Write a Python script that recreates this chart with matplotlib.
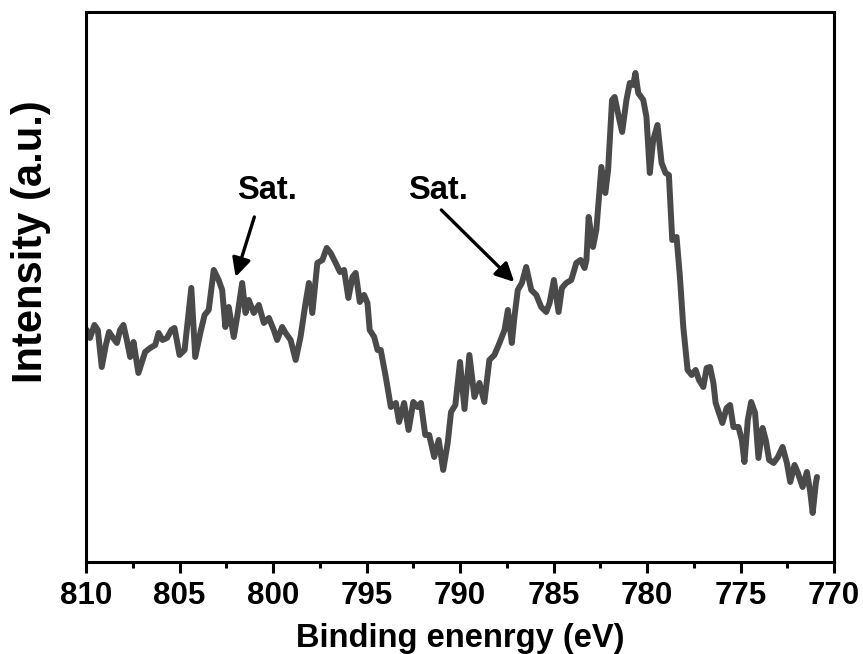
import matplotlib
matplotlib.use('Agg')
import matplotlib.pyplot as plt
from matplotlib.ticker import MultipleLocator

plt.rcParams['font.family'] = ['Liberation Sans', 'DejaVu Sans']
plt.rcParams['font.weight'] = 'bold'

# Cu 2p region of the XPS spectrum
binding_energy = [
    809.96, 809.79, 809.55, 809.37, 809.16, 808.94, 808.77, 808.59, 808.35, 808.18,
    808.00, 807.82, 807.64, 807.46, 807.20, 806.98, 806.84, 806.57, 806.30, 806.12,
    805.91, 805.67, 805.44, 805.27, 805.00, 804.73, 804.37, 804.16, 803.89, 803.66,
    803.44, 803.17, 802.91, 802.72, 802.55, 802.37, 802.10, 801.92, 801.65, 801.47,
    801.30, 801.03, 800.76, 800.49, 800.22, 799.96, 799.78, 799.51, 799.33, 799.06,
    798.79, 798.53, 798.26, 798.08, 797.90, 797.63, 797.36, 797.13, 796.92, 796.65,
    796.42, 796.20, 795.97, 795.75, 795.58, 795.36, 795.13, 794.95, 794.83, 794.59,
    794.41, 794.24, 793.97, 793.70, 793.43, 793.26, 792.99, 792.75, 792.50, 792.27,
    792.09, 791.86, 791.65, 791.38, 791.14, 790.90, 790.66, 790.48, 790.25, 790.00,
    789.76, 789.50, 789.23, 788.96, 788.70, 788.43, 788.16, 787.89, 787.62, 787.44,
    787.23, 787.09, 786.91, 786.69, 786.46, 786.19, 785.92, 785.66, 785.39, 785.21,
    784.98, 784.73, 784.55, 784.32, 784.05, 783.78, 783.55, 783.34, 783.24, 783.12,
    782.89, 782.71, 782.44, 782.23, 782.08, 781.87, 781.73, 781.51, 781.33, 781.10,
    780.92, 780.74, 780.62, 780.47, 780.20, 780.03, 779.85, 779.67, 779.44, 779.22,
    779.01, 778.83, 778.65, 778.42, 778.24, 778.06, 777.83, 777.61, 777.40, 777.22,
    776.99, 776.81, 776.63, 776.45, 776.33, 775.97, 775.74, 775.56, 775.38, 775.11,
    774.93, 774.79, 774.61, 774.43, 774.22, 774.04, 773.82, 773.65, 773.47, 773.23,
    773.00, 772.75, 772.52, 772.34, 772.11, 771.93, 771.68, 771.45, 771.27, 771.14,
    770.97, 770.91,
]
intensity = [
    232, 224, 237, 232, 195, 217, 230, 225, 219, 232,
    237, 222, 205, 220, 189, 202, 210, 214, 217, 229,
    222, 224, 232, 234, 207, 212, 274, 205, 229, 247,
    252, 292, 282, 272, 235, 255, 225, 245, 279, 249,
    262, 249, 257, 239, 244, 232, 222, 235, 229, 222,
    202, 225, 259, 279, 249, 299, 302, 314, 309, 299,
    290, 292, 264, 285, 289, 260, 267, 259, 232, 225,
    212, 212, 185, 155, 159, 140, 159, 132, 160, 155,
    159, 127, 127, 105, 122, 92, 119, 150, 157, 200,
    153, 207, 165, 179, 160, 202, 207, 219, 232, 252,
    219, 245, 272, 279, 295, 272, 267, 255, 250, 259,
    282, 250, 274, 279, 282, 299, 302, 294, 302, 345,
    315, 332, 395, 369, 392, 462, 465, 445, 430, 462,
    479, 477, 489, 469, 462, 445, 389, 422, 437, 399,
    389, 387, 322, 325, 285, 235, 192, 187, 192, 182,
    175, 194, 195, 179, 159, 139, 154, 157, 135, 135,
    122, 100, 142, 160, 149, 104, 134, 122, 102, 99,
    105, 115, 99, 80, 97, 89, 75, 90, 70, 49,
    79, 85,
]

# satellite peaks: label position, arrow tail, arrow tip
sat_labels = ['Sat.', 'Sat.']
sat_text_pos = [(800.3, 371), (791.2, 371)]
sat_arrow_tail = [(801.0, 345), (791.0, 352)]
sat_arrow_tip = [(802.0, 285), (787.1, 280)]

fig = plt.figure(figsize=(8.63, 6.54), dpi=100)
ax = fig.add_axes([0.0997, 0.1407, 0.8667, 0.8410])

ax.plot(binding_energy, intensity, color='#4a4a4a', lw=4.3,
        solid_joinstyle='round', solid_capstyle='round')

for lab, tp, tail, tip in zip(sat_labels, sat_text_pos, sat_arrow_tail, sat_arrow_tip):
    ax.text(tp[0], tp[1], lab, ha='center', va='center', fontsize=23.5, fontweight='bold')
    ax.annotate('', xy=tip, xytext=tail,
                arrowprops=dict(arrowstyle='-|>', color='black', lw=2.4,
                                mutation_scale=28, shrinkA=0, shrinkB=0))

ax.set_xlim(810, 770)
ax.set_ylim(0, 550)
ax.xaxis.set_major_locator(MultipleLocator(5))
ax.xaxis.set_minor_locator(MultipleLocator(2.5))
ax.set_yticks([])
ax.tick_params(axis='x', which='major', direction='out', length=8, width=2.2,
               labelsize=22.5, pad=6, top=False)
ax.tick_params(axis='x', which='minor', direction='out', length=4.5, width=2.2, top=False)
for lab in ax.get_xticklabels():
    lab.set_fontweight('bold')
for sp in ax.spines.values():
    sp.set_linewidth(2.2)

ax.set_xlabel('Binding enenrgy (eV)', fontsize=23.5, fontweight='bold', labelpad=8)
fig.text(31 / 863, 1 - 242 / 654, 'Intensity (a.u.)', rotation=90,
         ha='center', va='center', fontsize=30, fontweight='bold')

fig.savefig('out.png', dpi=100, facecolor='white')
